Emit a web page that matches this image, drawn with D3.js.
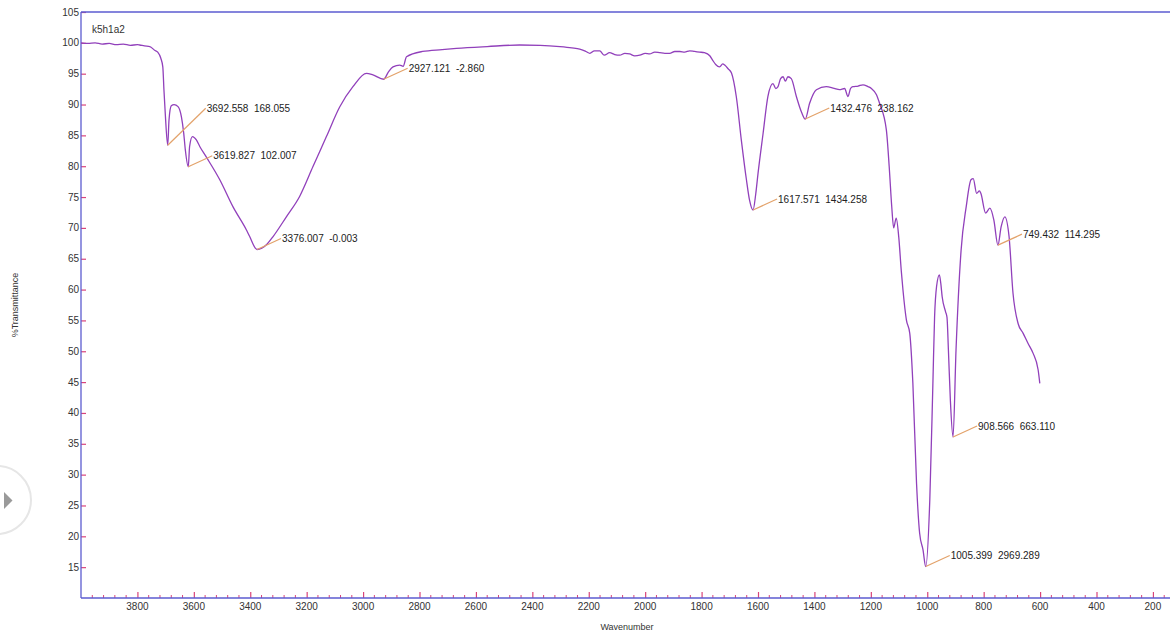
<!DOCTYPE html>
<html>
<head>
<meta charset="utf-8">
<script src="https://cdn.jsdelivr.net/npm/d3@7"></script>
<style>
  html, body { margin: 0; padding: 0; background: #ffffff; }
  svg { display: block; font-family: "Liberation Sans", Arial, sans-serif; }
</style>
</head>
<body>
<svg id="chart" width="1170" height="635"></svg>
<script>
// ---- data ----
const wavenumbers = [4000,3975,3950,3925,3900,3875,3850,3825,3800,3792,3775,3756,3739,3728,3717,3710,3706,3701,3692.6,3688,3680,3670,3656,3644,3636,3630,3619.8,3615,3605,3591,3579,3556,3508,3461,3414,3402,3376,3359,3340,3319,3272,3225,3178,3130,3083,3036,2988,2965,2927.1,2910,2894,2870,2858,2846,2789,2720,2669,2560,2445,2372,2302,2260,2232,2210,2196,2180,2161,2145,2126,2108,2090,2072,2055,2037,2019,2000,1984,1966,1948,1930,1913,1895,1877,1860,1842,1825,1807,1790,1771,1761,1750,1736,1725,1718,1706,1694,1677,1659,1641,1630,1617.6,1608,1600,1582,1565,1547,1537,1529,1520,1511,1503,1494,1482,1464,1446,1432.5,1417,1393,1358,1330,1311,1293,1281,1272,1264,1245,1228,1210,1198,1180,1169,1145,1135,1126,1119,1110,1101,1092,1086,1074,1062,1051,1038,1027,1015,1005.4,991,980,974,967,957,952,947,935,930,925,918,908.6,898,880,862,845,837,825,815,810,793,778,764,749.4,738,725,710,696,678,660,643,625,607,601];
const transmittance = [100.0,99.9,100.0,99.8,99.9,99.7,99.8,99.6,99.7,99.65,99.5,99.4,98.8,98.5,97.5,96.1,92.4,88.3,83.4,87.5,89.8,90.0,89.65,88.0,85.4,82.6,79.9,83.2,84.8,84.25,83.2,81.5,77.8,73.4,69.7,68.6,66.5,66.7,67.4,68.6,71.8,75.1,79.9,84.8,89.6,92.9,95.06,94.8,94.1,95.3,96.1,96.4,96.2,97.75,98.6,98.9,99.1,99.4,99.65,99.6,99.4,99.2,99.0,98.6,98.3,98.7,98.7,98.0,98.4,98.1,98.0,98.3,98.2,97.9,98.0,98.3,98.2,98.5,98.4,98.3,98.3,98.6,98.6,98.5,98.7,98.6,98.5,98.4,97.9,97.2,96.5,96.1,96.6,96.4,95.8,95.1,91.3,84.2,77.8,74.5,72.9,75.5,78.8,85.3,91.3,93.4,92.6,92.9,94.2,94.5,93.8,94.5,94.2,91.3,88.8,87.65,90.2,92.4,92.9,92.6,92.4,92.6,91.3,92.6,92.9,93.0,93.2,92.9,92.6,91.6,90.2,85.9,80.0,73.5,70.0,71.6,68.5,63.0,59.9,55.1,52.9,44.8,28.6,20.5,17.8,15.1,25.9,44.8,55.6,60.5,62.4,61.0,58.8,56.4,55.5,50.2,42.0,36.1,50.2,66.4,73.4,77.8,78.0,75.6,76.0,75.6,72.4,73.2,71.3,67.2,70.2,71.8,68.6,59.4,54.5,52.9,51.3,49.7,47.0,44.8];

const peakWavenumbers = [3692.558, 3619.827, 3376.007, 2927.121, 1617.571, 1432.476, 1005.399, 908.566, 749.432];
const peakTransmittance = [83.4, 79.9, 66.5, 94.1, 72.9, 87.65, 15.1, 36.1, 67.2];
const peakLabels = ["3692.558  168.055", "3619.827  102.007", "3376.007  -0.003", "2927.121  -2.860", "1617.571  1434.258", "1432.476  238.162", "1005.399  2969.289", "908.566  663.110", "749.432  114.295"];

const xMajorTicks = [3800,3600,3400,3200,3000,2800,2600,2400,2200,2000,1800,1600,1400,1200,1000,800,600,400,200];
const yTicks = [15,20,25,30,35,40,45,50,55,60,65,70,75,80,85,90,95,100,105];
const sampleName = "k5h1a2";
const xTitle = "Wavenumber";
const yTitle = "%Transmittance";

// ---- layout ----
const svg = d3.select("#chart");
const L = 81, R = 1169, T = 12, B = 598;
const x = d3.scaleLinear().domain([4000, 143]).range([L, R]);
const y = d3.scaleLinear().domain([10, 105]).range([B, T]);

const axisColor = "#5b5bd0";
const tickColor = "#d9447a";

// play-button overlay at left
svg.append("circle").attr("cx", -3).attr("cy", 500).attr("r", 34)
  .attr("fill", "#fff").attr("stroke", "#e6e6e6").attr("stroke-width", 2);
svg.append("path").attr("d", "M4,492 L4,509 L12.5,500.5 Z").attr("fill", "#9a9a9a");

// minor x ticks
const minorTicks = d3.range(3960, 143, -40).filter(v => v % 200 !== 0);
svg.append("g").selectAll("line").data(minorTicks).join("line")
  .attr("x1", d => x(d)).attr("x2", d => x(d))
  .attr("y1", B).attr("y2", B - 3)
  .attr("stroke", tickColor).attr("stroke-width", 1);

// major x ticks via d3 axis
const xAxis = d3.axisTop(x).tickValues(xMajorTicks).tickSize(6).tickFormat("");
const gx = svg.append("g").attr("transform", `translate(0,${B})`).call(xAxis);
gx.select(".domain").remove();
gx.selectAll(".tick line").attr("stroke", tickColor).attr("stroke-width", 1.2);
svg.append("g").selectAll("text").data(xMajorTicks).join("text")
  .attr("x", d => x(d)).attr("y", B + 12)
  .attr("text-anchor", "middle").attr("font-size", 10).attr("fill", "#333")
  .text(d => d);

// y ticks
const yAxis = d3.axisRight(y).tickValues(yTicks).tickSize(5).tickFormat("");
const gy = svg.append("g").attr("transform", `translate(${L},0)`).call(yAxis);
gy.select(".domain").remove();
gy.selectAll(".tick line").attr("stroke", tickColor).attr("stroke-width", 1.2);
svg.append("g").selectAll("text").data(yTicks).join("text")
  .attr("x", L - 2).attr("y", d => y(d) + 3.5)
  .attr("text-anchor", "end").attr("font-size", 10).attr("fill", "#333")
  .text(d => d);

// frame lines
svg.append("line").attr("x1", L).attr("x2", L).attr("y1", T).attr("y2", B)
  .attr("stroke", axisColor).attr("stroke-width", 1.3);
svg.append("line").attr("x1", L).attr("x2", R + 1).attr("y1", B).attr("y2", B)
  .attr("stroke", axisColor).attr("stroke-width", 1.3);
svg.append("line").attr("x1", L).attr("x2", 1170).attr("y1", T).attr("y2", T)
  .attr("stroke", axisColor).attr("stroke-width", 1.3);

// titles
svg.append("text").attr("x", 627).attr("y", 630).attr("text-anchor", "middle")
  .attr("font-size", 9).attr("fill", "#333").text(xTitle);
svg.append("text").attr("transform", "translate(18,305) rotate(-90)")
  .attr("text-anchor", "middle").attr("font-size", 9).attr("fill", "#333").text(yTitle);
svg.append("text").attr("x", 92).attr("y", 33).attr("font-size", 10)
  .attr("fill", "#333").text(sampleName);

// spectrum
const spectrum = wavenumbers.map((w, i) => [w, transmittance[i]]);
const line = d3.line().x(d => x(d[0])).y(d => y(d[1])).curve(d3.curveMonotoneX);
svg.append("path").datum(spectrum).attr("d", line)
  .attr("fill", "none").attr("stroke", "#9140bb").attr("stroke-width", 1.3)
  .attr("stroke-linejoin", "round");

// peak annotations
const peaks = peakWavenumbers.map((w, i) => ({ w, t: peakTransmittance[i], label: peakLabels[i], first: i === 0 }));
const ann = svg.append("g");
peaks.forEach(p => {
  const px = x(p.w), py = y(p.t);
  const dx = p.first ? 38 : 24, dy = p.first ? -37 : -11;
  ann.append("line").attr("x1", px).attr("y1", py).attr("x2", px + dx).attr("y2", py + dy)
    .attr("stroke", "#e3a26a").attr("stroke-width", 1.2);
  ann.append("text").attr("x", px + dx + 1).attr("y", py + dy + 3.5)
    .attr("font-size", 10).attr("fill", "#222").style("white-space", "pre")
    .text(p.label);
});
</script>
</body>
</html>
